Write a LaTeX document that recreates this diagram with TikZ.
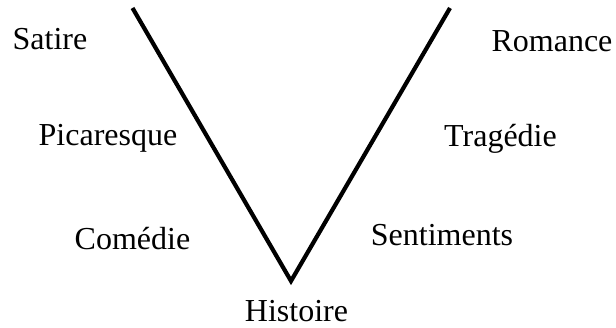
\documentclass[tikz,border=0pt]{standalone}
\usepackage{fontspec}
\setmainfont{Liberation Serif}
\begin{document}
\begin{tikzpicture}[x=1pt,y=-1pt,
  lbl/.style={anchor=base,inner sep=0pt,font=\fontsize{32}{36}\selectfont},
  vline/.style={line width=4.2pt,line join=miter,line cap=butt}]
\useasboundingbox (0,0) rectangle (616,328);
\coordinate (lt) at (132.5,8);
\coordinate (bot) at (291,281);
\coordinate (rt) at (450,8);
\draw[vline] (lt) -- (bot) -- (rt);
\node[lbl] (satire) at (50,50) {Satire};
\node[lbl] (romance) at (552,52) {Romance};
\node[lbl] (picaresque) at (108,146) {Picaresque};
\node[lbl] (tragedie) at (500.5,147) {Tragédie};
\node[lbl] (comedie) at (132.5,250) {Comédie};
\node[lbl] (sentiments) at (442,246) {Sentiments};
\node[lbl] (histoire) at (296.5,322) {Histoire};
\end{tikzpicture}
\end{document}
